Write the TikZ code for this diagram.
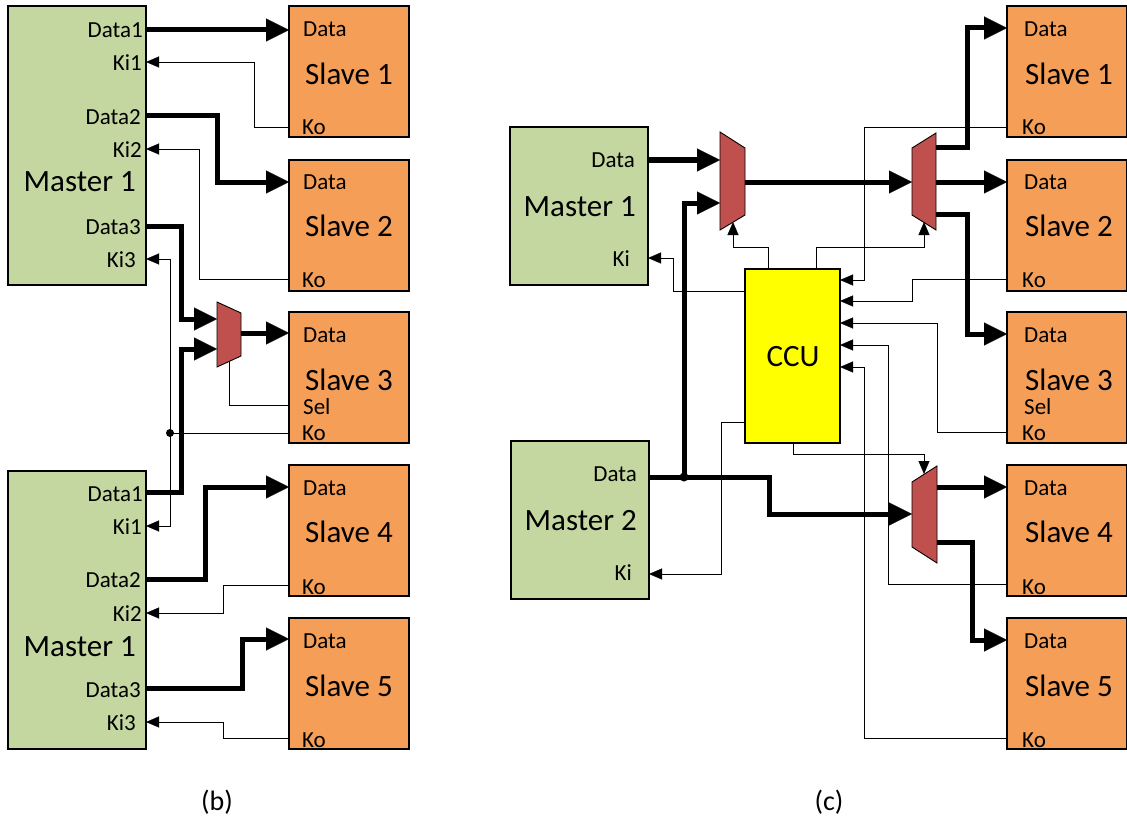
\documentclass[tikz,border=0pt]{standalone}
\usepackage{fontspec}
\setmainfont{Carlito}
\usetikzlibrary{arrows.meta}
\definecolor{mgreen}{RGB}{196,215,160}
\definecolor{sorange}{RGB}{245,158,88}
\definecolor{muxred}{RGB}{192,80,77}
\definecolor{ccuyel}{RGB}{255,255,0}
\tikzset{
  blk/.style={draw, line width=1.4pt, inner sep=0pt, outer sep=0pt, anchor=north west},
  masterbox/.style={blk, fill=mgreen, minimum width=138pt},
  slavebox/.style={blk, fill=sorange, minimum width=120pt, minimum height=131pt},
  ccubox/.style={blk, fill=ccuyel, minimum width=95pt, minimum height=174pt},
  muxshape/.style={draw, fill=muxred, line width=0.9pt, line join=miter},
  thk/.style={line width=5pt, -{Triangle[length=23pt,width=23pt,line width=0.3pt]}},
  thkline/.style={line width=5pt},
  thn/.style={line width=0.9pt, -{Triangle[length=13pt,width=11pt,line width=0.3pt]}},
  thnline/.style={line width=0.9pt},
  sm/.style={font=\fontsize{23}{27}\selectfont, inner sep=0pt},
  big/.style={font=\fontsize{31}{37}\selectfont, inner sep=0pt},
  captxt/.style={font=\fontsize{28}{33}\selectfont, inner sep=0pt},
}
\begin{document}
\begin{tikzpicture}[x=1pt, y=-1pt]
\useasboundingbox (0,0) rectangle (1127,824);

% ================= (b) =================
\node[masterbox, minimum height=279pt] (bmA) at (8,6) {};
\node[masterbox, minimum height=278pt] (bmB) at (8,471) {};
\node[slavebox] (bs1) at (289,6) {};
\node[slavebox] (bs2) at (289,160) {};
\node[slavebox] (bs3) at (289,312) {};
\node[slavebox] (bs4) at (289,465) {};
\node[slavebox] (bs5) at (289,618) {};

% mux (b)
\draw[muxshape] (217,302) -- (241,313) -- (241,356) -- (217,367) -- cycle;
\coordinate (bmxi1) at (217,319);
\coordinate (bmxi2) at (217,349);
\coordinate (bmxo) at (241,333);
\coordinate (bmxs) at (229,361.5);

% connectors (b)
\draw[thk] (bmA.east |- 0,30) -- (bs1.west |- 0,30);
\draw[thn] (bs1.west |- 0,127) -| (254,62) -- (bmA.east |- 0,62);
\draw[thk] (bmA.east |- 0,116) -| (217,182) -- (bs2.west |- 0,182);
\draw[thn] (bs2.west |- 0,279) -| (199,149) -- (bmA.east |- 0,149);
\draw[thk] (bmA.east |- 0,226) -| (181,319) -- (bmxi1);
\draw[thk] (bmB.east |- 0,492) -| (181,349) -- (bmxi2);
\draw[thk] (bmxo) -- (bs3.west |- 0,333);
\draw[thnline] (bs3.west |- 0,405) -| (bmxs);
\draw[thnline] (bs3.west |- 0,433) -- (170,433) coordinate (bdot);
\draw[thn] (bdot) -- (170,259) -- (bmA.east |- 0,259);
\draw[thn] (bdot) -- (170,526) -- (bmB.east |- 0,526);
\fill (bdot) circle (4pt);
\draw[thk] (bmB.east |- 0,579) -| (205,487) -- (bs4.west |- 0,487);
\draw[thn] (bs4.west |- 0,585) -| (223,613) -- (bmB.east |- 0,613);
\draw[thk] (bmB.east |- 0,688) -| (242,639) -- (bs5.west |- 0,639);
\draw[thn] (bs5.west |- 0,738) -| (223,722) -- (bmB.east |- 0,722);

% labels (b)
\node[sm, anchor=east] (bAd1) at (143,30) {Data1};
\node[sm, anchor=east] (bAk1) at (142,63) {Ki1};
\node[sm, anchor=east] (bAd2) at (141,117) {Data2};
\node[sm, anchor=east] (bAk2) at (142,150) {Ki2};
\node[big, anchor=east] (bAt) at (136,182) {Master 1};
\node[sm, anchor=east] (bAd3) at (141,227) {Data3};
\node[sm, anchor=east] (bAk3) at (136,260) {Ki3};

\node[sm, anchor=east] (bBd1) at (143,494) {Data1};
\node[sm, anchor=east] (bBk1) at (142,527) {Ki1};
\node[sm, anchor=east] (bBd2) at (141,580) {Data2};
\node[sm, anchor=east] (bBk2) at (142,614) {Ki2};
\node[big, anchor=east] (bBt) at (136,647) {Master 1};
\node[sm, anchor=east] (bBd3) at (141,690) {Data3};
\node[sm, anchor=east] (bBk3) at (136,723) {Ki3};

\node[sm, anchor=west] (bs1d) at (303,29.5) {Data};
\node[big, anchor=west] (bs1t) at (305,74) {Slave 1};
\node[sm, anchor=west] (bs1k) at (302,127) {Ko};
\node[sm, anchor=west] (bs2d) at (303,182) {Data};
\node[big, anchor=west] (bs2t) at (305,226) {Slave 2};
\node[sm, anchor=west] (bs2k) at (302,280) {Ko};
\node[sm, anchor=west] (bs3d) at (303,335) {Data};
\node[big, anchor=west] (bs3t) at (305,380) {Slave 3};
\node[sm, anchor=west] (bs3s) at (303,407) {Sel};
\node[sm, anchor=west] (bs3k) at (302,433) {Ko};
\node[sm, anchor=west] (bs4d) at (303,488) {Data};
\node[big, anchor=west] (bs4t) at (305,532) {Slave 4};
\node[sm, anchor=west] (bs4k) at (302,587) {Ko};
\node[sm, anchor=west] (bs5d) at (303,641) {Data};
\node[big, anchor=west] (bs5t) at (305,686) {Slave 5};
\node[sm, anchor=west] (bs5k) at (302,740) {Ko};

\node[captxt] (capb) at (217,802) {(b)};

% ================= (c) =================
\node[masterbox, minimum height=158pt] (cm1) at (510,127) {};
\node[masterbox, minimum height=158pt] (cm2) at (511,441) {};
\node[slavebox] (cs1) at (1007,6) {};
\node[slavebox] (cs2) at (1007,160) {};
\node[slavebox] (cs3) at (1007,312) {};
\node[slavebox] (cs4) at (1007,465) {};
\node[slavebox] (cs5) at (1007,618) {};
\node[ccubox] (ccu) at (745,269) {};
\node[big] (ccut) at (793,357) {CCU};

% muxes (c)
\draw[muxshape] (720,132) -- (745,148) -- (745,215) -- (720,230) -- cycle;
\draw[muxshape] (912,148) -- (936,133) -- (936,230) -- (912,215) -- cycle;
\draw[muxshape] (912,482) -- (937,466) -- (937,563) -- (912,547) -- cycle;
\coordinate (cx1a) at (720,160);
\coordinate (cx1b) at (720,203);
\coordinate (cx1o) at (745,182);
\coordinate (cx1s) at (733,222);
\coordinate (cx2i) at (912,182);
\coordinate (cx2s) at (924,222);
\coordinate (cx3i) at (912,514);
\coordinate (cx3s) at (924,474);
\coordinate (cj) at (684,477);

% data connectors (c)
\draw[thk] (cm1.east |- 0,160) -- (cx1a);
\draw[thkline] (cm2.east |- 0,477) -- (cj);
\draw[thk] (cj) -- (769,477) -- (769,514) -- (cx3i);
\draw[thk] (cj) -- (684,203) -- (cx1b);
\fill (cj) circle (4.5pt);
\draw[thk] (cx1o) -- (cx2i);
\draw[thk] (936,148) -| (967,28) -- (cs1.west |- 0,28);
\draw[thk] (936,182) -- (cs2.west |- 0,182);
\draw[thk] (936,214) -| (967,334) -- (cs3.west |- 0,334);
\draw[thk] (937,487) -- (cs4.west |- 0,487);
\draw[thk] (937,542) -| (972,640) -- (cs5.west |- 0,640);

% control connectors (c)
\draw[thn] (ccu.north -| 768,0) |- (733,247) -- (cx1s);
\draw[thn] (ccu.north -| 816,0) |- (924,247) -- (cx2s);
\draw[thn] (ccu.west |- 0,291) -| (673,258) -- (cm1.east |- 0,258);
\draw[thn] (ccu.west |- 0,422) -| (721,574) -- (cm2.east |- 0,574);
\draw[thn] (ccu.south -| 793,0) |- (924,454) -- (cx3s);
\draw[thn] (cs1.west |- 0,127) -| (864,280) -- (ccu.east |- 0,280);
\draw[thn] (cs2.west |- 0,279) -| (912,301) -- (ccu.east |- 0,301);
\draw[thn] (cs3.west |- 0,432) -| (937,323) -- (ccu.east |- 0,323);
\draw[thn] (cs4.west |- 0,584) -| (888,345) -- (ccu.east |- 0,345);
\draw[thn] (cs5.west |- 0,738) -| (864,367) -- (ccu.east |- 0,367);

% labels (c)
\node[sm, anchor=east] (cm1d) at (635,160) {Data};
\node[big, anchor=east] (cm1t) at (636,207) {Master 1};
\node[sm, anchor=east] (cm1k) at (630,259) {Ki};
\node[sm, anchor=east] (cm2d) at (637,474) {Data};
\node[big, anchor=east] (cm2t) at (637,521) {Master 2};
\node[sm, anchor=east] (cm2k) at (632,573) {Ki};

\node[sm, anchor=west] (cs1d) at (1024,29) {Data};
\node[big, anchor=west] (cs1t) at (1025,74) {Slave 1};
\node[sm, anchor=west] (cs1k) at (1022,127) {Ko};
\node[sm, anchor=west] (cs2d) at (1024,182) {Data};
\node[big, anchor=west] (cs2t) at (1025,226) {Slave 2};
\node[sm, anchor=west] (cs2k) at (1022,280) {Ko};
\node[sm, anchor=west] (cs3d) at (1024,335) {Data};
\node[big, anchor=west] (cs3t) at (1025,380) {Slave 3};
\node[sm, anchor=west] (cs3s) at (1024,407) {Sel};
\node[sm, anchor=west] (cs3k) at (1022,433) {Ko};
\node[sm, anchor=west] (cs4d) at (1024,488) {Data};
\node[big, anchor=west] (cs4t) at (1025,532) {Slave 4};
\node[sm, anchor=west] (cs4k) at (1022,587) {Ko};
\node[sm, anchor=west] (cs5d) at (1024,641) {Data};
\node[big, anchor=west] (cs5t) at (1025,686) {Slave 5};
\node[sm, anchor=west] (cs5k) at (1022,740) {Ko};

\node[captxt] (capc) at (829,802) {(c)};
\end{tikzpicture}
\end{document}
